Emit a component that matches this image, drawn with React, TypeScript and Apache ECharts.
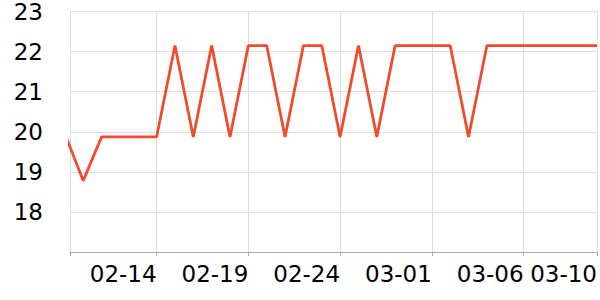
import React, { useEffect, useRef } from 'react';
import * as echarts from 'echarts';

const dates = [
  '02-09', '02-10', '02-11', '02-12', '02-13', '02-14', '02-15', '02-16', '02-17', '02-18',
  '02-19', '02-20', '02-21', '02-22', '02-23', '02-24', '02-25', '02-26', '02-27', '02-28',
  '03-01', '03-02', '03-03', '03-04', '03-05', '03-06', '03-07', '03-08', '03-09', '03-10',
];

const values = [
  19.95, 18.78, 19.87, 19.87, 19.87, 19.87, 22.15, 19.87, 22.15, 19.87,
  22.15, 22.15, 19.87, 22.15, 22.15, 19.87, 22.15, 19.87, 22.15, 22.15,
  22.15, 22.15, 19.87, 22.15, 22.15, 22.15, 22.15, 22.15, 22.15, 22.15,
];

const tickLabels = ['02-14', '02-19', '02-24', '03-01', '03-06', '03-10'];

const xMin = 0.28;

export default function App() {
  const ref = useRef<HTMLDivElement>(null);
  useEffect(() => {
    if (!ref.current) return;
    const chart = echarts.init(ref.current, undefined, { renderer: 'svg' });
    const tickIdx = tickLabels.map((l) => dates.indexOf(l));
    chart.setOption({
      animation: false,
      textStyle: { fontFamily: 'DejaVu Sans' },
      grid: { left: 70, right: 0, top: 10, bottom: 48 },
      xAxis: {
        type: 'value',
        min: xMin,
        max: dates.length - 1,
        axisLine: { show: true, lineStyle: { color: '#aaaaaa', width: 1 } },
        axisTick: { show: true, length: 4, customValues: [xMin, ...tickIdx], lineStyle: { color: '#aaaaaa' } },
        axisLabel: {
          customValues: tickIdx,
          formatter: (v: number) => dates[Math.round(v)] ?? '',
          align: 'right',
          margin: 10,
          fontSize: 23,
          color: '#000',
          fontFamily: 'DejaVu Sans',
        },
        splitLine: { show: true, lineStyle: { color: '#dddddd', width: 1 } },
      },
      yAxis: {
        type: 'value',
        min: 17,
        max: 23,
        interval: 1,
        axisLine: { show: false },
        axisTick: { show: false },
        axisLabel: {
          showMinLabel: false,
          margin: 27,
          fontSize: 23,
          color: '#000',
          fontFamily: 'DejaVu Sans',
        },
        splitLine: { show: true, lineStyle: { color: '#dddddd', width: 1 } },
      },
      series: [
        {
          type: 'line',
          data: values.map((v, i) => [i, v]),
          showSymbol: false,
          symbol: 'none',
          clip: true,
          lineStyle: { color: '#ef4b2c', width: 2.8 },
          itemStyle: { color: '#ef4b2c' },
        },
      ],
    });
    return () => chart.dispose();
  }, []);
  return (
    <div
      ref={ref}
      style={{ position: 'absolute', left: 0, top: 0, width: 600, height: 300 }}
    />
  );
}
